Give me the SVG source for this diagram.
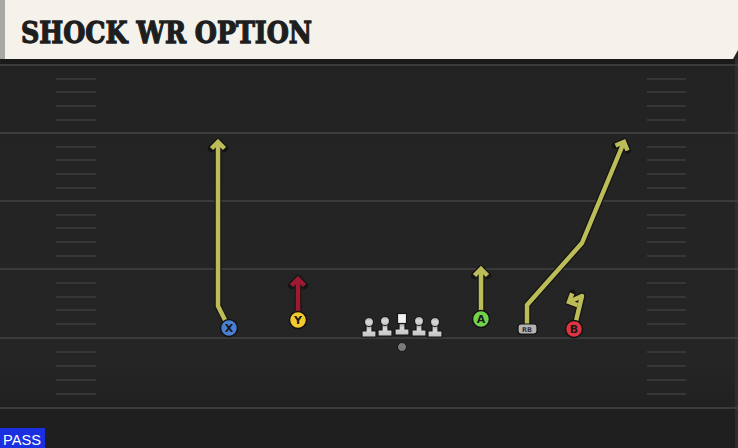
<svg xmlns="http://www.w3.org/2000/svg" width="738" height="448" viewBox="0 0 738 448">
<style>
.yard{stroke:#3b3b3b;stroke-width:2}
.hash{stroke:#363636;stroke-width:2}
.out{fill:none;stroke:#141414;stroke-width:7;stroke-linejoin:round;stroke-linecap:round}
.yel{fill:none;stroke:#bcbc58;stroke-width:4.5;stroke-linejoin:round}
.red{fill:none;stroke:#9e1a30;stroke-width:4.5;stroke-linejoin:round}
.lbl{font-family:"DejaVu Sans","Liberation Sans",sans-serif;font-weight:bold;font-size:11px;fill:#1a1a1a;text-anchor:middle}
.ol{fill:url(#olg);stroke:#151515;stroke-width:1.2}
</style>
<defs>
<linearGradient id="fld" x1="0" y1="0" x2="0" y2="1">
<stop offset="0" stop-color="#222"/>
<stop offset="0.8" stop-color="#252525"/>
<stop offset="1" stop-color="#1d1d1d"/>
</linearGradient>
<linearGradient id="olg" x1="0" y1="0" x2="0" y2="1">
<stop offset="0" stop-color="#9a9a9a"/>
<stop offset="0.4" stop-color="#d8d8d8"/>
<stop offset="1" stop-color="#c4c4c4"/>
</linearGradient>
<marker id="mo" markerUnits="userSpaceOnUse" orient="auto" markerWidth="20" markerHeight="20" refX="0" refY="0" viewBox="-10 -10 20 20" overflow="visible">
<path d="M-6.5,-6.5 L0,0 L-6.5,6.5" fill="none" stroke="#141414" stroke-width="7" stroke-linecap="round" stroke-linejoin="round"/>
</marker>
<marker id="my" markerUnits="userSpaceOnUse" orient="auto" markerWidth="20" markerHeight="20" refX="0" refY="0" viewBox="-10 -10 20 20" overflow="visible">
<path d="M-6.5,-6.5 L0,0 L-6.5,6.5" fill="none" stroke="#bcbc58" stroke-width="4.5" stroke-linejoin="miter"/>
</marker>
<marker id="mr" markerUnits="userSpaceOnUse" orient="auto" markerWidth="20" markerHeight="20" refX="0" refY="0" viewBox="-10 -10 20 20" overflow="visible">
<path d="M-6.5,-6.5 L0,0 L-6.5,6.5" fill="none" stroke="#9e1a30" stroke-width="4.5" stroke-linejoin="miter"/>
</marker>
</defs>

<g id="field">
<rect x="0" y="0" width="738" height="448" fill="url(#fld)"/>
<rect x="0" y="59" width="738" height="6" fill="#1a1a1a"/>
<rect x="0" y="408" width="738" height="40" fill="#1f1f1f"/>
<rect x="735" y="59" width="3" height="389" fill="#2e2e2e"/>
<line class="yard" x1="0" y1="65" x2="738" y2="65"/>
<line class="yard" x1="0" y1="133" x2="738" y2="133"/>
<line class="yard" x1="0" y1="201" x2="738" y2="201"/>
<line class="yard" x1="0" y1="269" x2="738" y2="269"/>
<line class="yard" x1="0" y1="338" x2="738" y2="338"/>
<line class="yard" x1="0" y1="408" x2="738" y2="408"/>
<g id="hashes">
<path class="hash" d="M56,79H96M56,92H96M56,106H96M56,120H96M56,147H96M56,160H96M56,174H96M56,188H96M56,215H96M56,228H96M56,242H96M56,256H96M56,283H96M56,297H96M56,310H96M56,324H96M56,352H96M56,366H96M56,380H96M56,394H96"/>
<path class="hash" d="M647,79H686M647,92H686M647,106H686M647,120H686M647,147H686M647,160H686M647,174H686M647,188H686M647,215H686M647,228H686M647,242H686M647,256H686M647,283H686M647,297H686M647,310H686M647,324H686M647,352H686M647,366H686M647,380H686M647,394H686"/>
</g>
</g>

<g id="header">
<path d="M0,0 H738 V50 L733,59 H0 Z" fill="#f4f2eb"/>
<rect x="0" y="0" width="5" height="59" fill="#a8a8a4"/>
<text x="21" y="43" font-family="'DejaVu Serif','Liberation Serif',serif" font-weight="bold" font-size="29" fill="#1e1e1e" stroke="#1e1e1e" stroke-width="1.3" textLength="291" lengthAdjust="spacingAndGlyphs">SHOCK WR OPTION</text>
</g>

<g id="connectors">
<path class="out" d="M226,322 L218,306 L218,142" marker-end="url(#mo)"/>
<path class="yel" d="M226,322 L218,306 L218,142" marker-end="url(#my)"/>
<path class="out" d="M298,313 L298,279" marker-end="url(#mo)"/>
<path class="red" d="M298,313 L298,279" marker-end="url(#mr)"/>
<path class="out" d="M481,312 L481,269" marker-end="url(#mo)"/>
<path class="yel" d="M481,312 L481,269" marker-end="url(#my)"/>
<path class="out" d="M527,324 L527,305 L582,243 L624,142" marker-end="url(#mo)"/>
<path class="yel" d="M527,324 L527,305 L582,243 L624,142" marker-end="url(#my)"/>
<path class="out" d="M576,321 L582,296 L569,302" marker-end="url(#mo)"/>
<path class="yel" d="M576,321 L582,296 L569,302" marker-end="url(#my)"/>
</g>

<g id="line">
<g id="lt"><path class="ol" d="M366,325 H372 V331 H376 V337 H362 V331 H366 Z"/><circle class="ol" cx="369" cy="322" r="4.5"/></g>
<g id="lg"><path class="ol" d="M382,324 H388 V330 H392 V336 H378 V330 H382 Z"/><circle class="ol" cx="385" cy="321" r="4.5"/></g>
<g id="c"><path class="ol" d="M399,323 H405 V329 H409 V335 H395 V329 H399 Z"/><rect x="397.5" y="313.5" width="9" height="10" fill="#f0f0f0" stroke="#151515" stroke-width="1.2"/></g>
<g id="rg"><path class="ol" d="M416,324 H422 V330 H426 V336 H412 V330 H416 Z"/><circle class="ol" cx="419" cy="321" r="4.5"/></g>
<g id="rt"><path class="ol" d="M432,325 H438 V331 H442 V337 H428 V331 H432 Z"/><circle class="ol" cx="435" cy="322" r="4.5"/></g>
<g id="qb"><circle cx="402" cy="347" r="4.5" fill="#7a7a7a" stroke="#151515" stroke-width="1"/></g>
</g>

<g id="node-x"><circle cx="229" cy="328" r="8.5" fill="#4a7fd6" stroke="#121212" stroke-width="1.5"/><text class="lbl" x="229" y="332">X</text></g>
<g id="node-y"><circle cx="298" cy="320" r="8.5" fill="#f3c92e" stroke="#121212" stroke-width="1.5"/><text class="lbl" x="298" y="324">Y</text></g>
<g id="node-a"><circle cx="481" cy="319" r="8.5" fill="#72d24a" stroke="#121212" stroke-width="1.5"/><text class="lbl" x="481" y="323">A</text></g>
<g id="node-rb"><rect x="518" y="324" width="19" height="10" rx="3" fill="#b4b4b4" stroke="#121212" stroke-width="1.2"/><text x="527" y="332" font-family="'DejaVu Sans',sans-serif" font-weight="bold" font-size="6.5" fill="#333" text-anchor="middle">RB</text></g>
<g id="node-b"><circle cx="574" cy="329" r="8.5" fill="#dc3440" stroke="#121212" stroke-width="1.5"/><text class="lbl" x="574" y="333">B</text></g>

<g id="tag">
<rect x="0" y="428" width="45" height="20" fill="#1a2fe0"/>
<text x="3" y="445" font-family="'Liberation Sans','DejaVu Sans',sans-serif" font-size="15" fill="#fff" textLength="38" lengthAdjust="spacingAndGlyphs">PASS</text>
</g>
</svg>
